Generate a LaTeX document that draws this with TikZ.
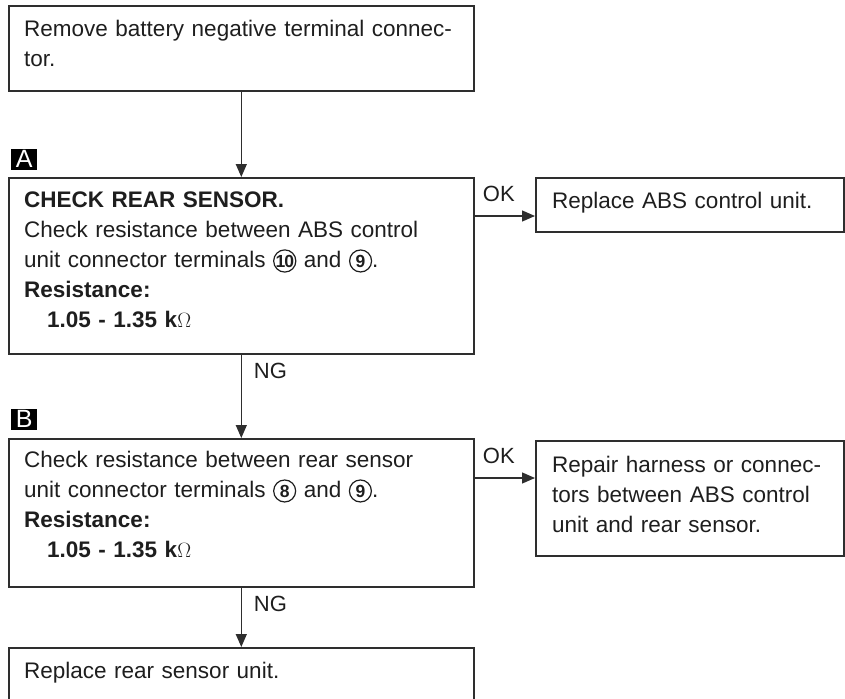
\documentclass[tikz,border=0pt]{standalone}
\usepackage{fontspec}
\setmainfont{Liberation Sans}
\usepackage{tikz}
\usetikzlibrary{arrows.meta,positioning,calc}
\definecolor{LineGray}{HTML}{2E2E2E}
\definecolor{TextGray}{HTML}{1E1E1E}
\tikzset{
  box/.style={draw=LineGray,line width=1.6pt,anchor=north west,inner sep=0pt},
  txt/.style={anchor=base west,align=left,inner sep=0pt,text=TextGray,
    text width=440pt,font=\fontsize{22.5}{30}\selectfont},
  flow/.style={draw=LineGray,line width=1.3pt,-{Triangle[length=13pt,width=11pt]}},
  tag/.style={fill=black,text=white,anchor=south west,inner sep=0pt,
    minimum width=26pt,minimum height=21pt,font=\fontsize{25}{25}\selectfont},
  lbl/.style={text=TextGray,font=\fontsize{22}{22}\selectfont,inner sep=0pt}
}
\newcommand{\cnum}[1]{\tikz[baseline=(cn.base)]\node[draw=TextGray,circle,
  text width={},align=center,anchor=center,inner sep=0pt,minimum size=22pt,
  line width=1.2pt,font=\bfseries\fontsize{17.5}{17.5}\selectfont] (cn) {#1};}
\begin{document}
\begin{tikzpicture}[x=1pt,y=-1pt]
  \clip (0,0) rectangle (845,698);
  % boxes of the main column
  \node[box,minimum width=465pt,minimum height=85pt] (start) at (8,5) {};
  \node[box,minimum width=465pt,minimum height=176pt] (chkA) at (8,177) {};
  \node[box,minimum width=465pt,minimum height=148pt] (chkB) at (8,438) {};
  \node[box,minimum width=465pt,minimum height=80pt] (last) at (8,647) {};
  % boxes on the right
  \node[box,minimum width=308pt,minimum height=54pt] (okA) at (535,177) {};
  \node[box,minimum width=308pt,minimum height=115pt] (okB) at (535,440) {};

  \node[txt] (startT) at ([shift={(16pt,-32pt)}]start.north west)
    {Remove battery negative terminal connec-\\tor.};
  \node[txt] (chkAT) at ([shift={(16pt,-30pt)}]chkA.north west)
    {\textbf{CHECK REAR SENSOR.}\\
     Check resistance between ABS control\\
     unit connector terminals \cnum{1\kern-1pt0} and \cnum{9}.\\
     \textbf{Resistance:}\\
     \hspace*{23pt}\textbf{1.05 - 1.35 k}$\Omega$};
  \node[txt] (chkBT) at ([shift={(16pt,-29pt)}]chkB.north west)
    {Check resistance between rear sensor\\
     unit connector terminals \cnum{8} and \cnum{9}.\\
     \textbf{Resistance:}\\
     \hspace*{23pt}\textbf{1.05 - 1.35 k}$\Omega$};
  \node[txt] (lastT) at ([shift={(16pt,-31pt)}]last.north west)
    {Replace rear sensor unit.};
  \node[txt,text width=290pt] (okAT) at ([shift={(17pt,-31pt)}]okA.north west)
    {Replace ABS control unit.};
  \node[txt,text width=290pt] (okBT) at ([shift={(17pt,-32pt)}]okB.north west)
    {Repair harness or connec-\\tors between ABS control\\unit and rear sensor.};

  % step tags
  \node[tag] (tagA) at ([shift={(3pt,7pt)}]chkA.north west) {A};
  \node[tag] (tagB) at ([shift={(3pt,8pt)}]chkB.north west) {B};

  % connectors
  \draw[flow] (start.south) -- (chkA.north);
  \draw[flow] (chkA.south) -- node[lbl,pos=0.2,anchor=west,xshift=12pt] {NG} (chkB.north);
  \draw[flow] (chkB.south) -- node[lbl,pos=0.28,anchor=west,xshift=12pt] {NG} (last.north);
  \draw[flow] ([yshift=-39pt]chkA.north east) -- node[lbl,above=14pt,xshift=-6pt] {OK}
    ([yshift=-39pt]okA.north west);
  \draw[flow] ([yshift=-40pt]chkB.north east) -- node[lbl,above=14pt,xshift=-6pt] {OK}
    ([yshift=-38pt]okB.north west);
\end{tikzpicture}
\end{document}
